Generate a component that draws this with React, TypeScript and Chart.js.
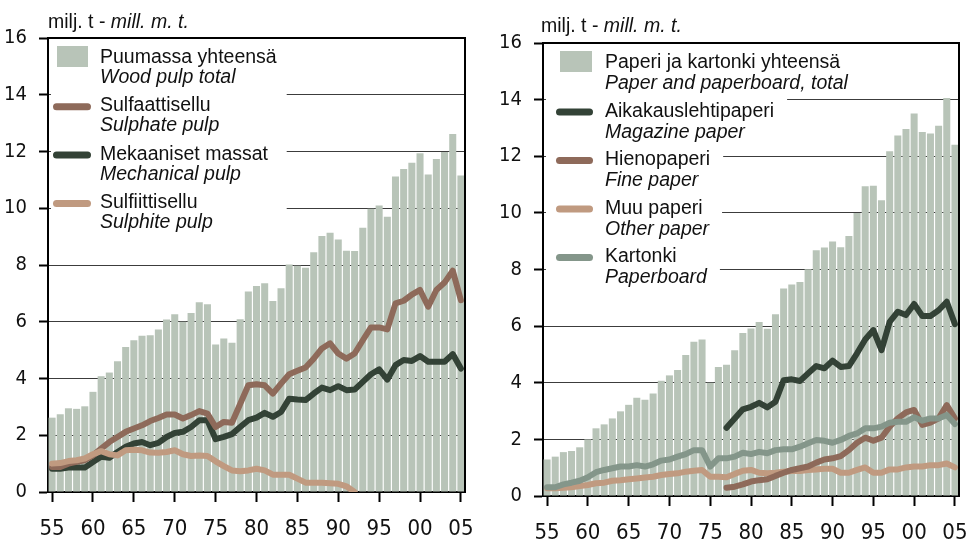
import React, { useEffect, useRef } from 'react';
import { Chart, registerables } from 'chart.js';

Chart.register(...registerables);

// ---------- DATA ----------
const years = [
  '1955', '1956', '1957', '1958', '1959', '1960', '1961', '1962', '1963', '1964',
  '1965', '1966', '1967', '1968', '1969', '1970', '1971', '1972', '1973', '1974',
  '1975', '1976', '1977', '1978', '1979', '1980', '1981', '1982', '1983', '1984',
  '1985', '1986', '1987', '1988', '1989', '1990', '1991', '1992', '1993', '1994',
  '1995', '1996', '1997', '1998', '1999', '2000', '2001', '2002', '2003', '2004',
  '2005',
];

// Left panel: wood pulp (milj. t)
const woodPulpTotal = [
  2.62, 2.74, 2.95, 2.93, 3.02, 3.53, 4.08, 4.21, 4.61, 5.11,
  5.35, 5.51, 5.52, 5.73, 6.08, 6.26, 6.0, 6.31, 6.69, 6.62,
  5.2, 5.41, 5.26, 6.09, 7.07, 7.26, 7.36, 6.73, 7.18, 8.02,
  7.97, 7.9, 8.45, 9.02, 9.14, 8.9, 8.5, 8.49, 9.31, 9.98,
  10.1, 9.7, 11.12, 11.38, 11.6, 11.94, 11.19, 11.74, 11.98, 12.62,
  11.15,
];
const sulphatePulp = [
  0.88, 0.88, 1.0, 1.06, 1.12, 1.29, 1.53, 1.76, 1.94, 2.12,
  2.24, 2.35, 2.5, 2.61, 2.73, 2.73, 2.59, 2.71, 2.85, 2.76,
  2.29, 2.47, 2.44, 3.1, 3.76, 3.8, 3.76, 3.47, 3.82, 4.15,
  4.27, 4.39, 4.7, 5.06, 5.24, 4.88, 4.7, 4.88, 5.35, 5.8,
  5.8, 5.73, 6.65, 6.74, 6.96, 7.12, 6.53, 7.12, 7.38, 7.8,
  6.76,
];
const mechanicalPulp = [
  0.82, 0.82, 0.86, 0.86, 0.86, 1.06, 1.24, 1.21, 1.41, 1.59,
  1.71, 1.76, 1.65, 1.73, 1.94, 2.08, 2.12, 2.29, 2.53, 2.53,
  1.86, 1.94, 2.04, 2.29, 2.53, 2.62, 2.79, 2.65, 2.82, 3.29,
  3.26, 3.24, 3.47, 3.68, 3.59, 3.73, 3.59, 3.61, 3.88, 4.15,
  4.32, 3.96, 4.47, 4.65, 4.62, 4.79, 4.59, 4.59, 4.59, 4.86,
  4.35,
];
const sulphitePulp = [
  1.0, 1.02, 1.09, 1.12, 1.18, 1.33, 1.44, 1.33, 1.29, 1.47,
  1.49, 1.47, 1.39, 1.38, 1.41, 1.47, 1.33, 1.27, 1.29, 1.27,
  1.08, 0.91, 0.76, 0.73, 0.76, 0.82, 0.76, 0.61, 0.61, 0.61,
  0.47, 0.33, 0.33, 0.33, 0.31, 0.29, 0.2, 0.0, null, null,
  null, null, null, null, null, null, null, null, null, null,
  null,
];

// Right panel: paper and paperboard (milj. t)
const paperTotal = [
  1.29, 1.39, 1.55, 1.59, 1.72, 2.0, 2.39, 2.53, 2.74, 2.99,
  3.22, 3.47, 3.4, 3.62, 4.07, 4.26, 4.45, 4.98, 5.45, 5.53,
  4.0, 4.56, 4.64, 5.15, 5.76, 5.92, 6.15, 5.91, 6.42, 7.33,
  7.47, 7.56, 8.01, 8.68, 8.78, 8.99, 8.79, 9.18, 10.0, 10.94,
  10.96, 10.45, 12.18, 12.73, 12.96, 13.51, 12.86, 12.8, 13.08, 14.06,
  12.41,
];
const magazinePaper = [
  null, null, null, null, null, null, null, null, null, null,
  null, null, null, null, null, null, null, null, null, null,
  null, null, 2.41, 2.74, 3.06, 3.15, 3.29, 3.13, 3.33, 4.09,
  4.12, 4.06, 4.33, 4.59, 4.51, 4.78, 4.56, 4.59, 5.04, 5.53,
  5.86, 5.15, 6.15, 6.51, 6.39, 6.78, 6.36, 6.36, 6.56, 6.86,
  6.07,
];
const finePaper = [
  null, null, null, null, null, null, null, null, null, null,
  null, null, null, null, null, null, null, null, null, null,
  null, null, 0.29, 0.33, 0.41, 0.51, 0.56, 0.59, 0.71, 0.82,
  0.92, 0.98, 1.04, 1.18, 1.29, 1.33, 1.41, 1.62, 1.88, 2.06,
  1.95, 2.06, 2.45, 2.74, 2.95, 3.04, 2.51, 2.59, 2.74, 3.21,
  2.74,
];
const otherPaper = [
  0.27, 0.27, 0.29, 0.31, 0.35, 0.39, 0.45, 0.47, 0.54, 0.56,
  0.59, 0.62, 0.65, 0.68, 0.74, 0.78, 0.8, 0.86, 0.89, 0.92,
  0.68, 0.68, 0.66, 0.78, 0.89, 0.92, 0.82, 0.8, 0.82, 0.86,
  0.88, 0.88, 0.92, 0.94, 0.96, 0.96, 0.82, 0.82, 0.92, 1.01,
  0.82, 0.82, 0.94, 0.94, 1.01, 1.04, 1.04, 1.09, 1.09, 1.15,
  1.01,
];
const paperboard = [
  0.31, 0.31, 0.41, 0.47, 0.54, 0.66, 0.84, 0.92, 0.98, 1.04,
  1.04, 1.09, 1.04, 1.12, 1.25, 1.29, 1.39, 1.48, 1.62, 1.62,
  1.04, 1.33, 1.33, 1.39, 1.53, 1.48, 1.56, 1.51, 1.62, 1.65,
  1.65, 1.74, 1.86, 1.98, 1.95, 1.88, 1.98, 2.12, 2.21, 2.39,
  2.39, 2.45, 2.59, 2.62, 2.62, 2.78, 2.66, 2.74, 2.74, 2.86,
  2.54,
];

const yMin = 0;
const yMax = 16;
const yStep = 2;
const tickEvery = 5;

const titleFi = 'milj. t - ';
const titleEn = 'mill. m. t.';

// ---------- STYLE ----------
const FONT_FAMILY = '"Liberation Sans", Arial, Helvetica, sans-serif';
const TICK_FAMILY = '"Liberation Sans Narrow", "Arial Narrow", "DejaVu Sans Condensed", sans-serif';
const C_BAR = '#b8c4b8';
const C_SULPHATE = '#8e6a5a';
const C_DARK = '#334236';
const C_LIGHT = '#c09a80';
const C_BOARD = '#84968a';

type Entry = { kind: 'bar' | 'line'; color: string; fi: string; en: string };

type LegendLayout = {
  mode: 'single' | 'entries';
  barX1: number; barX2: number;
  lineX1: number; lineX2: number;
  textX: number;
  firstBaseline: number;
  step: number;
  lineGap: number;
};

type PanelCfg = {
  canvasLeft: number;
  canvasWidth: number;
  axisWidth: number;
  padRight: number;
  padTop: number;
  xAxisHeight: number;
  titleDy: number;
  titleDx: number;
  bars: (number | null)[];
  lines: { data: (number | null)[]; color: string; order: number; label: string }[];
  legend: Entry[];
  legendLayout: LegendLayout;
};

const leftPanel: PanelCfg = {
  canvasLeft: 0,
  canvasWidth: 483,
  axisWidth: 48,
  padRight: 18,
  padTop: 38,
  xAxisHeight: 50,
  titleDy: -10,
  titleDx: 0,
  bars: woodPulpTotal,
  lines: [
    { data: mechanicalPulp, color: C_DARK, order: 3, label: 'Mechanical pulp' },
    { data: sulphatePulp, color: C_SULPHATE, order: 2, label: 'Sulphate pulp' },
    { data: sulphitePulp, color: C_LIGHT, order: 1, label: 'Sulphite pulp' },
  ],
  legend: [
    { kind: 'bar', color: C_BAR, fi: 'Puumassa yhteensä', en: 'Wood pulp total' },
    { kind: 'line', color: C_SULPHATE, fi: 'Sulfaattisellu', en: 'Sulphate pulp' },
    { kind: 'line', color: C_DARK, fi: 'Mekaaniset massat', en: 'Mechanical pulp' },
    { kind: 'line', color: C_LIGHT, fi: 'Sulfiittisellu', en: 'Sulphite pulp' },
  ],
  legendLayout: {
    mode: 'single',
    barX1: 9, barX2: 40,
    lineX1: 5, lineX2: 43,
    textX: 52,
    firstBaseline: 25,
    step: 48.3,
    lineGap: 20,
  },
};

const rightPanel: PanelCfg = {
  canvasLeft: 483,
  canvasWidth: 483,
  axisWidth: 60,
  padRight: 7,
  padTop: 43,
  xAxisHeight: 46,
  titleDy: -11,
  titleDx: -2,
  bars: paperTotal,
  lines: [
    { data: otherPaper, color: C_LIGHT, order: 4, label: 'Other paper' },
    { data: finePaper, color: C_SULPHATE, order: 3, label: 'Fine paper' },
    { data: paperboard, color: C_BOARD, order: 2, label: 'Paperboard' },
    { data: magazinePaper, color: C_DARK, order: 1, label: 'Magazine paper' },
  ],
  legend: [
    { kind: 'bar', color: C_BAR, fi: 'Paperi ja kartonki yhteensä', en: 'Paper and paperboard, total' },
    { kind: 'line', color: C_DARK, fi: 'Aikakauslehtipaperi', en: 'Magazine paper' },
    { kind: 'line', color: C_SULPHATE, fi: 'Hienopaperi', en: 'Fine paper' },
    { kind: 'line', color: C_LIGHT, fi: 'Muu paperi', en: 'Other paper' },
    { kind: 'line', color: C_BOARD, fi: 'Kartonki', en: 'Paperboard' },
  ],
  legendLayout: {
    mode: 'entries',
    barX1: 17, barX2: 49,
    lineX1: 13, lineX2: 50,
    textX: 62,
    firstBaseline: 25,
    step: 48.5,
    lineGap: 21,
  },
};

const TEXT_SIZE = 19.5;
const Y_TICK_SIZE = 20;
const X_TICK_SIZE = 22;

function makeDecorPlugin(cfg: PanelCfg) {
  return {
    id: 'panelDecor',
    afterDraw(chart: any) {
      const ctx: CanvasRenderingContext2D = chart.ctx;
      const a = chart.chartArea;
      const L = cfg.legendLayout;
      const reg = `${TEXT_SIZE}px ${FONT_FAMILY}`;
      const ita = `italic ${TEXT_SIZE}px ${FONT_FAMILY}`;
      ctx.save();
      ctx.textBaseline = 'alphabetic';
      ctx.textAlign = 'left';

      // legend backgrounds
      const widths = cfg.legend.map((e) => {
        ctx.font = reg;
        const w1 = ctx.measureText(e.fi).width;
        ctx.font = ita;
        const w2 = ctx.measureText(e.en).width;
        return Math.max(w1, w2);
      });
      ctx.fillStyle = '#ffffff';
      if (L.mode === 'single') {
        const maxW = Math.max(...widths);
        const y1 = a.top + L.firstBaseline - 22;
        const y2 = a.top + L.firstBaseline + L.step * (cfg.legend.length - 1) + L.lineGap + 7;
        ctx.fillRect(a.left + 3, y1, L.textX + maxW + 10 - 3, y2 - y1);
      } else {
        cfg.legend.forEach((e, i) => {
          const b = a.top + L.firstBaseline + L.step * i;
          ctx.fillRect(a.left + 3, b - 19, L.textX + widths[i] + 13 - 3, L.lineGap + 25);
        });
      }

      // legend entries
      cfg.legend.forEach((e, i) => {
        const b = a.top + L.firstBaseline + L.step * i;
        if (e.kind === 'bar') {
          ctx.fillStyle = e.color;
          ctx.fillRect(a.left + L.barX1, b - 17, L.barX2 - L.barX1, 21);
        } else {
          ctx.strokeStyle = e.color;
          ctx.lineWidth = 7;
          ctx.lineCap = 'round';
          ctx.beginPath();
          ctx.moveTo(a.left + L.lineX1 + 3.5, b - 4.5);
          ctx.lineTo(a.left + L.lineX2 - 3.5, b - 4.5);
          ctx.stroke();
        }
        ctx.fillStyle = '#111111';
        ctx.font = reg;
        ctx.fillText(e.fi, a.left + L.textX, b);
        ctx.font = ita;
        ctx.fillText(e.en, a.left + L.textX, b + L.lineGap);
      });

      // title
      const tx = a.left + cfg.titleDx;
      const ty = a.top + cfg.titleDy;
      ctx.fillStyle = '#111111';
      ctx.font = reg;
      ctx.fillText(titleFi, tx, ty);
      const w = ctx.measureText(titleFi).width;
      ctx.font = ita;
      ctx.fillText(titleEn, tx + w, ty);

      // frame (top and right)
      ctx.strokeStyle = '#000000';
      ctx.lineWidth = 2;
      ctx.lineCap = 'butt';
      ctx.beginPath();
      ctx.moveTo(a.left - 1, a.top);
      ctx.lineTo(a.right, a.top);
      ctx.lineTo(a.right, a.bottom + 1);
      ctx.stroke();
      ctx.restore();
    },
  };
}

function Panel({ cfg }: { cfg: PanelCfg }) {
  const ref = useRef<HTMLCanvasElement | null>(null);
  useEffect(() => {
    if (!ref.current) return;
    const datasets: any[] = [
      {
        type: 'bar',
        label: 'total',
        data: cfg.bars,
        backgroundColor: C_BAR,
        borderWidth: 0,
        barPercentage: 0.86,
        categoryPercentage: 1,
        order: 10,
      },
      ...cfg.lines.map((l) => ({
        type: 'line',
        label: l.label,
        data: l.data,
        borderColor: l.color,
        backgroundColor: l.color,
        borderWidth: 6,
        borderCapStyle: 'round',
        borderJoinStyle: 'round',
        pointRadius: 0,
        tension: 0,
        spanGaps: false,
        order: l.order,
      })),
    ];
    const chart = new Chart(ref.current, {
      type: 'bar',
      data: { labels: years, datasets },
      options: {
        animation: false,
        responsive: false,
        devicePixelRatio: 1,
        events: [],
        layout: { padding: { left: 0, right: cfg.padRight, top: cfg.padTop, bottom: 0 } },
        plugins: { legend: { display: false }, tooltip: { enabled: false }, title: { display: false } },
        scales: {
          x: {
            type: 'category',
            offset: true,
            grid: {
              display: true,
              offset: false,
              drawOnChartArea: false,
              drawTicks: true,
              tickLength: 10,
              tickWidth: 2,
              tickColor: (c: any) => (Number(years[c.index]) % tickEvery === 0 ? '#000000' : 'rgba(0,0,0,0)'),
            },
            border: { display: true, color: '#000000', width: 2 },
            ticks: {
              autoSkip: false,
              maxRotation: 0,
              minRotation: 0,
              padding: 14,
              color: '#111111',
              font: { family: TICK_FAMILY, size: X_TICK_SIZE },
              callback: (_v: any, i: number) => {
                const y = Number(years[i]);
                return y % tickEvery === 0 ? String(y % 100).padStart(2, '0') : '';
              },
            },
            afterFit: (s: any) => {
              s.height = cfg.xAxisHeight;
              s.paddingLeft = 0;
              s.paddingRight = 0;
            },
          },
          y: {
            type: 'linear',
            min: yMin,
            max: yMax,
            ticks: {
              stepSize: yStep,
              padding: 12,
              color: '#111111',
              font: { family: TICK_FAMILY, size: Y_TICK_SIZE },
            },
            grid: {
              display: true,
              color: '#3c3c3c',
              lineWidth: 1,
              drawTicks: true,
              tickLength: 9,
              tickWidth: 2,
              tickColor: '#000000',
            },
            border: { display: true, color: '#000000', width: 2 },
            afterFit: (s: any) => {
              s.width = cfg.axisWidth;
              s.paddingTop = 0;
              s.paddingBottom = 0;
            },
          },
        },
      } as any,
      plugins: [makeDecorPlugin(cfg)],
    });
    return () => chart.destroy();
  }, [cfg]);
  return (
    <div style={{ position: 'absolute', left: cfg.canvasLeft, top: 0, width: cfg.canvasWidth, height: 542 }}>
      <canvas ref={ref} width={cfg.canvasWidth} height={542} style={{ width: cfg.canvasWidth, height: 542, display: 'block' }} />
    </div>
  );
}

export default function App() {
  return (
    <div style={{ position: 'fixed', left: 0, top: 0, width: 966, height: 542, background: '#ffffff', overflow: 'hidden' }}>
      <Panel cfg={leftPanel} />
      <Panel cfg={rightPanel} />
    </div>
  );
}
